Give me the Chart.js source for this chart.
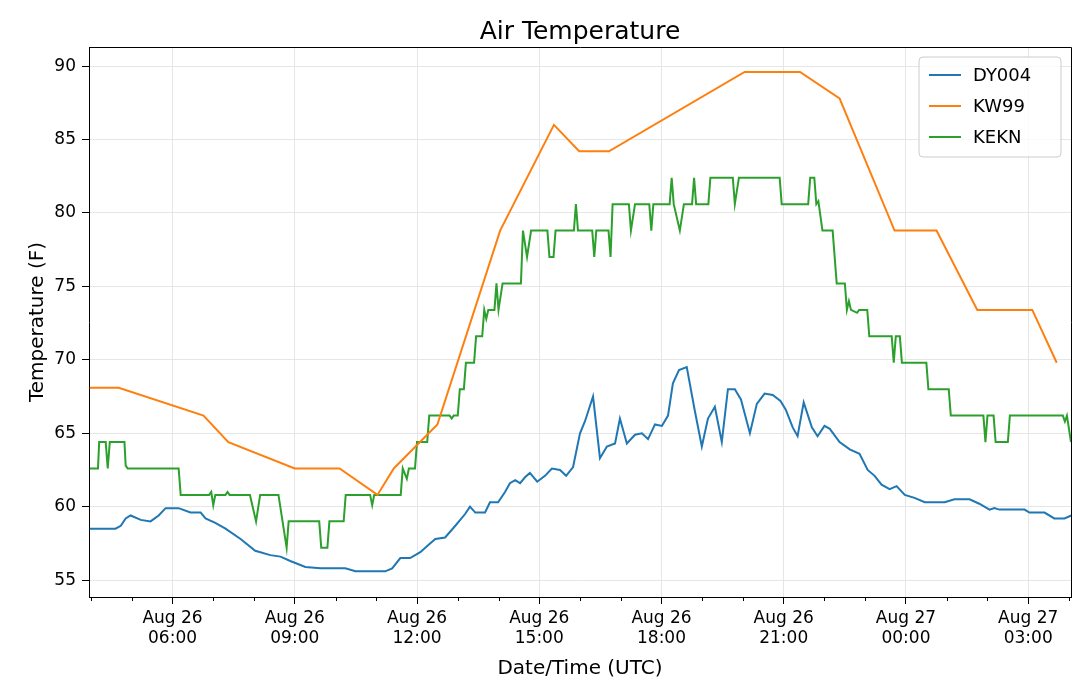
<!DOCTYPE html>
<html><head><meta charset="utf-8">
<script src="https://cdn.jsdelivr.net/npm/chart.js@4"></script>
<style>body{margin:0;background:#fff}</style>
</head><body>
<canvas id="c" width="1080" height="685"></canvas>
<script>
// times are hours since Aug 26 00:00 UTC
const xTicks = [6, 9, 12, 15, 18, 21, 24, 27]
const yTicks = [55, 60, 65, 70, 75, 80, 85, 90]

const dy004 = [[3.97,58.5],[4.60,58.5],[4.73,58.7],[4.85,59.2],[4.97,59.4],[5.22,59.1],[5.46,59.0],[5.66,59.4],[5.83,59.9],[6.15,59.9],[6.44,59.6],[6.69,59.6],[6.81,59.2],[7.05,58.9],[7.30,58.5],[7.67,57.8],[8.03,57.0],[8.40,56.7],[8.65,56.6],[8.89,56.3],[9.26,55.9],[9.63,55.8],[10.24,55.8],[10.49,55.6],[11.22,55.6],[11.39,55.8],[11.59,56.5],[11.83,56.5],[12.08,56.9],[12.32,57.5],[12.45,57.8],[12.69,57.9],[12.94,58.7],[13.18,59.5],[13.30,60.0],[13.43,59.6],[13.67,59.6],[13.79,60.3],[13.99,60.3],[14.16,61.0],[14.28,61.6],[14.41,61.8],[14.53,61.6],[14.65,62.0],[14.77,62.3],[14.95,61.7],[15.14,62.1],[15.31,62.6],[15.51,62.5],[15.66,62.1],[15.83,62.7],[16.00,65.0],[16.12,65.8],[16.32,67.5],[16.49,63.3],[16.66,64.1],[16.86,64.3],[16.98,66.0],[17.15,64.3],[17.35,64.9],[17.52,65.0],[17.67,64.6],[17.84,65.6],[18.01,65.5],[18.16,66.2],[18.28,68.4],[18.43,69.3],[18.62,69.5],[18.82,66.5],[18.99,64.1],[19.14,66.0],[19.31,66.8],[19.48,64.4],[19.63,68.0],[19.80,68.0],[19.95,67.3],[20.17,65.0],[20.34,67.0],[20.53,67.7],[20.73,67.6],[20.92,67.2],[21.05,66.6],[21.22,65.4],[21.34,64.8],[21.49,67.1],[21.69,65.4],[21.83,64.8],[22.00,65.5],[22.13,65.3],[22.37,64.4],[22.62,63.9],[22.86,63.6],[23.06,62.5],[23.23,62.1],[23.40,61.5],[23.60,61.2],[23.77,61.4],[23.97,60.8],[24.21,60.6],[24.46,60.3],[24.95,60.3],[25.19,60.5],[25.56,60.5],[25.80,60.2],[26.05,59.8],[26.17,59.9],[26.29,59.8],[26.91,59.8],[27.03,59.6],[27.40,59.6],[27.64,59.2],[27.89,59.2],[28.06,59.4]]

const kw99 = [[3.97,68.1],[4.68,68.1],[6.76,66.2],[7.37,64.4],[9.0,62.6],[10.1,62.6],[11.03,60.8],[11.43,62.6],[12.5,65.6],[14.04,78.8],[15.36,86.0],[15.98,84.2],[16.71,84.2],[20.04,89.6],[21.4,89.6],[22.37,87.8],[23.72,78.8],[24.75,78.8],[25.75,73.4],[27.1,73.4],[27.7,69.8]]

const kekn = [[3.97,62.6],[4.17,62.6],[4.20,64.4],[4.36,64.4],[4.41,62.6],[4.46,64.4],[4.82,64.4],[4.85,62.8],[4.90,62.6],[6.15,62.6],[6.20,60.8],[6.90,60.8],[6.95,61.0],[7.0,60.1],[7.05,60.8],[7.3,60.8],[7.35,61.0],[7.4,60.8],[7.9,60.8],[8.05,59],[8.15,60.8],[8.6,60.8],[8.8,57.2],[8.85,59],[9.6,59],[9.65,57.2],[9.8,57.2],[9.85,59],[10.2,59],[10.25,60.8],[10.85,60.8],[10.9,60.1],[10.95,60.8],[11.6,60.8],[11.65,62.6],[11.75,61.9],[11.8,62.6],[11.95,62.6],[12.0,64.4],[12.25,64.4],[12.3,66.2],[12.8,66.2],[12.85,66.0],[12.9,66.2],[13.0,66.2],[13.05,68],[13.15,68],[13.2,69.8],[13.4,69.8],[13.45,71.6],[13.6,71.6],[13.65,73.4],[13.7,72.8],[13.75,73.4],[13.9,73.4],[13.95,75.2],[14.0,73.4],[14.1,75.2],[14.55,75.2],[14.6,78.8],[14.7,77],[14.8,78.8],[15.2,78.8],[15.25,77],[15.35,77],[15.4,78.8],[15.85,78.8],[15.9,80.6],[15.95,78.8],[16.3,78.8],[16.35,77],[16.4,78.8],[16.7,78.8],[16.75,77],[16.8,80.6],[17.2,80.6],[17.25,78.8],[17.35,80.6],[17.7,80.6],[17.75,78.8],[17.8,80.6],[18.2,80.6],[18.25,82.4],[18.3,80.6],[18.45,78.8],[18.55,80.6],[18.75,80.6],[18.8,82.4],[18.85,80.6],[19.15,80.6],[19.2,82.4],[19.75,82.4],[19.8,80.6],[19.9,82.4],[20.9,82.4],[20.95,80.6],[21.6,80.6],[21.65,82.4],[21.75,82.4],[21.8,80.6],[21.85,80.8],[21.95,78.8],[22.2,78.8],[22.3,75.2],[22.5,75.2],[22.55,73.4],[22.6,74],[22.65,73.4],[22.8,73.2],[22.85,73.4],[23.05,73.4],[23.1,71.6],[23.65,71.6],[23.7,69.8],[23.75,71.6],[23.85,71.6],[23.9,69.8],[24.5,69.8],[24.55,68],[25.05,68],[25.1,66.2],[25.9,66.2],[25.95,64.4],[26.0,66.2],[26.15,66.2],[26.2,64.4],[26.5,64.4],[26.55,66.2],[27.85,66.2],[27.9,65.8],[27.95,66.2],[28.05,64.4]]

const FONT = 'DejaVu Sans'
const pts = arr => arr.map(p => ({x: p[0], y: p[1]}))

function tickLabel(h){
    const day = h >= 24 ? 'Aug 27' : 'Aug 26'
    const hh = String(h % 24).padStart(2, '0')
    return [day, hh + ':00']
}

// title, frame, inside legend and minor x ticks, matplotlib style
const extras = {
    id: 'extras',
    afterDraw(chart){
        const ctx = chart.ctx, a = chart.chartArea, xs = chart.scales.x
        ctx.save()
        ctx.fillStyle = '#000'
        ctx.font = '25px ' + FONT
        ctx.textAlign = 'center'
        ctx.textBaseline = 'alphabetic'
        ctx.fillText('Air Temperature', (a.left + a.right) / 2, 39)
        ctx.strokeStyle = '#000'
        ctx.lineWidth = 1
        ctx.beginPath()
        ctx.moveTo(a.left, a.top + 0.5); ctx.lineTo(a.right + 0.5, a.top + 0.5); ctx.lineTo(a.right + 0.5, a.bottom)
        ctx.stroke()
        for (let h = 4; h <= 28; h++){
            if (h % 3 === 0) continue
            const x = Math.round(xs.getPixelForValue(h)) + 0.5
            if (x < a.left || x > a.right) continue
            ctx.beginPath(); ctx.moveTo(x, a.bottom); ctx.lineTo(x, a.bottom + 4); ctx.stroke()
        }
        // legend
        const bx = 919, by = 57, bw = 142, bh = 100
        ctx.fillStyle = 'rgba(255,255,255,0.8)'
        ctx.strokeStyle = '#ccc'
        ctx.beginPath(); ctx.roundRect(bx, by, bw, bh, 4); ctx.fill(); ctx.stroke()
        ctx.font = '18px ' + FONT
        ctx.textAlign = 'left'
        ctx.textBaseline = 'middle'
        chart.data.datasets.forEach((ds, i) => {
            const y = by + 18 + i * 31
            ctx.strokeStyle = ds.borderColor
            ctx.lineWidth = 2
            ctx.beginPath(); ctx.moveTo(bx + 10, y); ctx.lineTo(bx + 42, y); ctx.stroke()
            ctx.fillStyle = '#000'
            ctx.fillText(ds.label, bx + 54, y + 1)
        })
        ctx.restore()
    }
}

new Chart(document.getElementById('c'), {
    type: 'line',
    data: {
        datasets: [
            {label: 'DY004', data: pts(dy004), borderColor: '#1f77b4'},
            {label: 'KW99', data: pts(kw99), borderColor: '#ff7f0e'},
            {label: 'KEKN', data: pts(kekn), borderColor: '#2ca02c'},
        ]
    },
    options: {
        responsive: false,
        devicePixelRatio: 1,
        animation: false,
        layout: {padding: {top: 47, right: 9, left: 22, bottom: 0}},
        elements: {
            point: {radius: 0},
            line: {borderWidth: 2, tension: 0}
        },
        plugins: {legend: {display: false}, tooltip: {enabled: false}},
        scales: {
            x: {
                type: 'linear', min: 3.95, max: 28.05,
                afterBuildTicks: s => { s.ticks = xTicks.map(v => ({value: v})) },
                afterFit: s => { s.height = 88 },
                ticks: {
                    color: '#000', font: {family: FONT, size: 17}, maxRotation: 0, padding: 4,
                    callback: v => tickLabel(v)
                },
                grid: {color: '#e6e6e6', tickColor: '#000', tickLength: 7},
                border: {color: '#000'},
                title: {display: true, text: 'Date/Time (UTC)', color: '#000', font: {family: FONT, size: 20}, padding: {top: 2}}
            },
            y: {
                min: 53.85, max: 91.3,
                afterBuildTicks: s => { s.ticks = yTicks.map(v => ({value: v})) },
                afterFit: s => { s.width = 67 },
                ticks: {color: '#000', font: {family: FONT, size: 17}, padding: 6},
                grid: {color: '#e6e6e6', tickColor: '#000', tickLength: 7},
                border: {color: '#000'},
                title: {display: true, text: 'Temperature (F)', color: '#000', font: {family: FONT, size: 20}, padding: {bottom: 4}}
            }
        }
    },
    plugins: [extras]
})
</script>
</body></html>
